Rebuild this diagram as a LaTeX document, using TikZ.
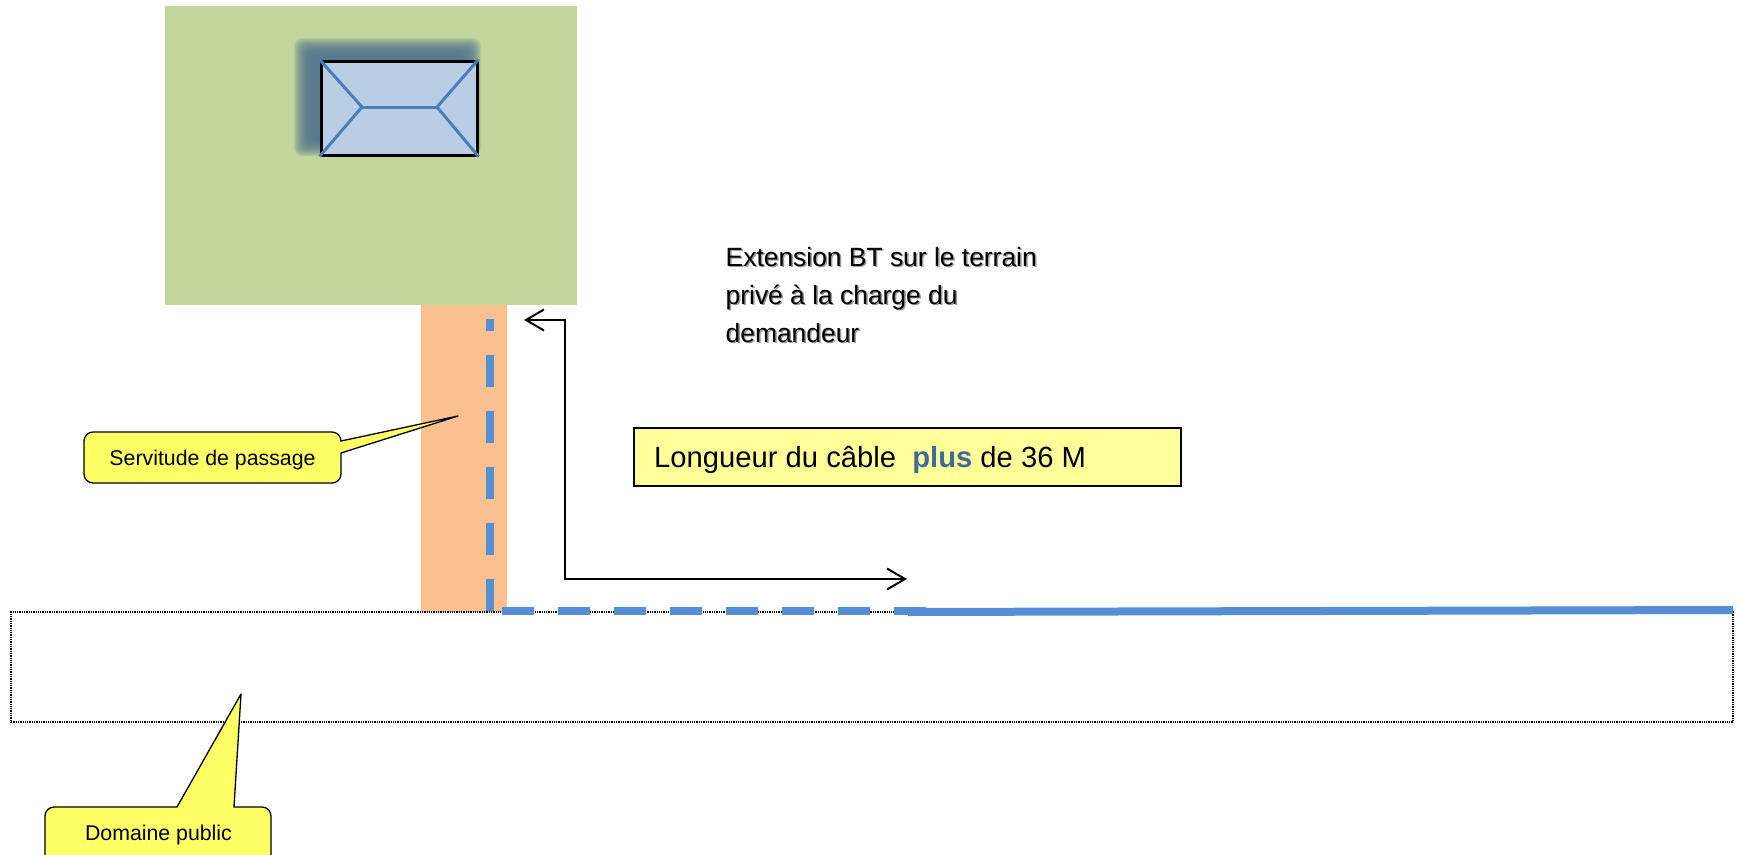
\documentclass[tikz,border=0pt]{standalone}
\usepackage{fontspec}
\setmainfont{Liberation Sans}
\usetikzlibrary{arrows.meta}
\definecolor{parcel}{HTML}{C3D69B}
\definecolor{passage}{HTML}{FAC090}
\definecolor{roof}{HTML}{B9CDE5}
\definecolor{ridge}{HTML}{4A7EBB}
\definecolor{cable}{HTML}{558ED5}
\definecolor{housesh}{HTML}{54788F}
\definecolor{callout}{HTML}{FFFF66}
\definecolor{notebox}{HTML}{FFFF99}
\definecolor{plusblue}{HTML}{3E6A9E}
\tikzset{
  calloutshape/.style={draw=black,line width=1.3pt,fill=callout,line join=round},
  calloutlabel/.style={font=\fontsize{21.3}{25}\selectfont,anchor=base,inner sep=0pt},
  ridgeline/.style={draw=ridge,line width=3pt},
  cabledash/.style={draw=cable,line width=8pt,dash pattern=on 32pt off 24pt},
  leader/.style={draw=black,line width=2pt,{Straight Barb[length=18pt,width=21pt,line width=2pt]}-{Straight Barb[length=18pt,width=21pt,line width=2pt]}},
  extline/.style={font=\fontsize{26.4}{30}\selectfont,anchor=base west,inner sep=0pt},
}
\begin{document}
\begin{tikzpicture}[x=1pt,y=-1pt]
\path[use as bounding box,clip] (0,0) rectangle (1739,854);
% parcel and right of way
\fill[parcel] (165,6) rectangle (577,305);
\fill[passage] (421,305) rectangle (507,612);
% blurred house shadow
\foreach \d in {9,8,...,-9}{
  \fill[housesh,opacity=0.14,rounded corners=8pt]
    (303-\d,47-\d) rectangle (472+\d,147+\d);
}
% house
\node[draw=black,line width=3pt,fill=roof,inner sep=0pt,minimum width=156pt,minimum height=94pt] (house) at (399,108) {};
\coordinate (rl) at (362,107);
\coordinate (rr) at (437,107);
\draw[ridgeline] (house.north west) -- (rl) -- (house.south west);
\draw[ridgeline] (house.north east) -- (rr) -- (house.south east);
\draw[ridgeline] (rl) -- (rr);
% public domain
\node[draw=black,line width=1.3pt,densely dotted,inner sep=0pt,minimum width=1722pt,minimum height=110pt] (domain) at (872,667) {};
% cable
\coordinate (vb) at (490,611);
\coordinate (vt) at (490,319);
\draw[cabledash] (vb) -- (vt);
\coordinate (hl) at (502,611);
\coordinate (hr) at (926,611);
\draw[cabledash] (hl) -- (hr);
\coordinate (sl) at (908,612);
\coordinate (sr) at (1733,610);
\draw[draw=cable,line width=8pt] (sl) -- (sr);
% length arrow
\coordinate (al) at (524,320);
\coordinate (ac1) at (565,320);
\coordinate (ac2) at (565,579);
\coordinate (ar) at (907,579);
\draw[leader] (al) -- (ac1) -- (ac2) -- (ar);
% note
\node[draw=black,line width=2pt,fill=notebox,inner sep=0pt,minimum width=547pt,minimum height=58pt] (note) at (907.5,457) {};
\node[anchor=base west,inner sep=0pt,font=\fontsize{29.2}{34}\selectfont] (notetext) at (654,467)
  {Longueur du câble~ \textcolor{plusblue}{\textbf{plus}} de 36 M};
% extension text, with its soft shadow
\foreach \t/\yy in {Extension BT sur le terrain/266,privé à la charge du/304,demandeur/342}{
  \node[extline,text=black!40] at (727,\yy+1.5) {\t};
  \node[extline] at (725.5,\yy) {\t};
}
% callouts
\draw[calloutshape] (341,441) [rounded corners=9pt] -- (341,432) -- (84,432) -- (84,483) -- (341,483) [sharp corners] -- (341,453) -- (458,416) -- cycle;
\node[calloutlabel] (servitude) at (212.5,465) {Servitude de passage};
\draw[calloutshape] (177,807) [rounded corners=9pt] -- (45,807) -- (45,866) -- (271,866) -- (271,807) [sharp corners] -- (234,807) -- (241,694) -- cycle;
\node[calloutlabel] (publicd) at (158.5,840) {Domaine public};
\end{tikzpicture}
\end{document}
